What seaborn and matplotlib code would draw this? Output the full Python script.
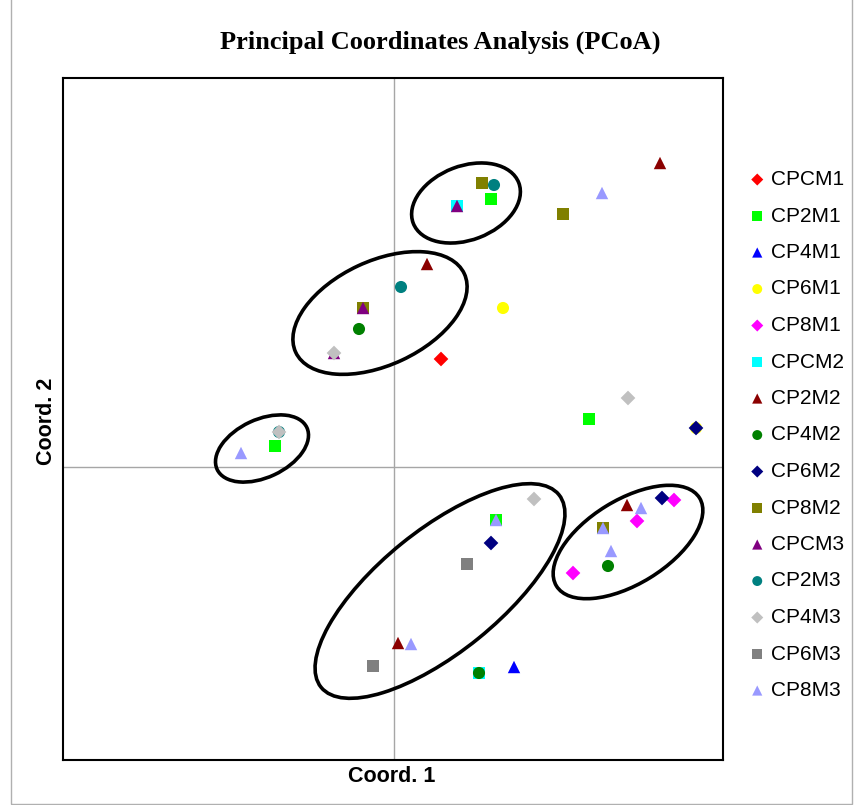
import matplotlib
matplotlib.use("Agg")
import matplotlib.pyplot as plt
from matplotlib.patches import Ellipse, Rectangle
import seaborn as sns
import pandas as pd

# ---- data ----
series = ["CPCM1", "CP2M1", "CP4M1", "CP6M1", "CP8M1",
          "CPCM2", "CP2M2", "CP4M2", "CP6M2", "CP8M2",
          "CPCM3", "CP2M3", "CP4M3", "CP6M3", "CP8M3"]

CPCM1_x = [0.047];                       CPCM1_y = [0.108]
CP2M1_x = [0.097, -0.119, 0.195, 0.102]; CP2M1_y = [0.268, 0.021, 0.048, -0.053]
CP4M1_x = [0.120];                       CP4M1_y = [-0.200]
CP6M1_x = [0.109, 0.302];                CP6M1_y = [0.159, 0.039]
CP8M1_x = [0.280, 0.243, 0.179];         CP8M1_y = [-0.033, -0.054, -0.106]
CPCM2_x = [0.063, 0.085];                CPCM2_y = [0.261, -0.206]
CP2M2_x = [0.266, 0.033, 0.233, 0.004];  CP2M2_y = [0.304, 0.203, -0.038, -0.176]
CP4M2_x = [-0.035, 0.085, 0.214];        CP4M2_y = [0.138, -0.206, -0.099]
CP6M2_x = [0.302, 0.268, 0.097];         CP6M2_y = [0.039, -0.031, -0.076]
CP8M2_x = [0.088, 0.169, -0.031, 0.209]; CP8M2_y = [0.284, 0.253, 0.159, -0.061]
CPCM3_x = [0.063, -0.031, -0.060];       CPCM3_y = [0.261, 0.159, 0.114]
CP2M3_x = [0.100, 0.007, -0.115];        CP2M3_y = [0.282, 0.180, 0.035]
CP4M3_x = [0.234, 0.140, -0.060, -0.115]; CP4M3_y = [0.069, -0.032, 0.114, 0.035]
CP6M3_x = [0.073, -0.021];               CP6M3_y = [-0.097, -0.199]
CP8M3_x = [0.208, -0.153, 0.102, 0.017, 0.247, 0.209, 0.217]
CP8M3_y = [0.274, 0.014, -0.053, -0.177, -0.041, -0.061, -0.084]

xs = [CPCM1_x, CP2M1_x, CP4M1_x, CP6M1_x, CP8M1_x, CPCM2_x, CP2M2_x, CP4M2_x,
      CP6M2_x, CP8M2_x, CPCM3_x, CP2M3_x, CP4M3_x, CP6M3_x, CP8M3_x]
ys = [CPCM1_y, CP2M1_y, CP4M1_y, CP6M1_y, CP8M1_y, CPCM2_y, CP2M2_y, CP4M2_y,
      CP6M2_y, CP8M2_y, CPCM3_y, CP2M3_y, CP4M3_y, CP6M3_y, CP8M3_y]

colors = ["#FF0000", "#00FF00", "#0000FF", "#FFFF00", "#FF00FF",
          "#00FFFF", "#8B0000", "#008000", "#000080", "#808000",
          "#800080", "#008080", "#C0C0C0", "#808080", "#9999FF"]
markers = ["D", "s", "^", "o", "D", "s", "^", "o", "D", "s", "^", "o", "D", "s", "^"]

# group ellipses: (center x, center y, width, height, angle)
ell_cx = [0.072, -0.014, -0.132, 0.046, 0.234]
ell_cy = [0.264, 0.154, 0.0185, -0.124, -0.075]
ell_w = [0.113, 0.186, 0.099, 0.306, 0.168]
ell_h = [0.074, 0.104, 0.058, 0.122, 0.084]
ell_a = [21, 25, 25, 39, 31.6]

# ---- styling ----
sns.set_style("white")
plt.rcParams["font.family"] = ["Liberation Sans", "DejaVu Sans"]
plt.rcParams["text.color"] = "black"

W, H = 855, 805
fig = plt.figure(figsize=(W / 100, H / 100), dpi=100)
L, R, T, B = 63, 723, 78, 760
ax = fig.add_axes([L / W, 1 - B / H, (R - L) / W, (B - T) / H])

msize = {"D": 56, "s": 74, "^": 80, "o": 76}
for name, x, y, c, m in zip(series, xs, ys, colors, markers):
    df = pd.DataFrame({"x": x, "y": y})
    sns.scatterplot(data=df, x="x", y="y", color=c, marker=m, s=msize[m],
                    linewidth=0, edgecolor="none", label=name, ax=ax, zorder=3)

for cx, cy, w, h, a in zip(ell_cx, ell_cy, ell_w, ell_h, ell_a):
    ax.add_patch(Ellipse((cx, cy), w, h, angle=a, fill=False,
                         edgecolor="black", linewidth=2.6, zorder=4))

ax.axvline(0, color="#A6A6A6", linewidth=1.0, zorder=1)
ax.axhline(0, color="#A6A6A6", linewidth=1.0, zorder=1)

ax.set_xlim(-0.331, 0.329)
ax.set_ylim(-0.293, 0.389)
ax.set_xticks([])
ax.set_yticks([])
ax.set_xlabel("")
ax.set_ylabel("")
for sp in ax.spines.values():
    sp.set_visible(True)
    sp.set_color("black")
    sp.set_linewidth(1.5)

leg = ax.legend(loc="upper left", bbox_to_anchor=(751 / W, 1 - 170 / H),
                bbox_transform=fig.transFigure, frameon=False, fontsize=15,
                markerscale=0.82, handlelength=0.6, handletextpad=0.35,
                labelspacing=0.84, borderpad=0, borderaxespad=0)
for t in leg.get_texts():
    t.set_color("black")

fig.text(440 / W, 1 - 42 / H, "Principal Coordinates Analysis (PCoA)",
         ha="center", va="center", fontsize=19, fontweight="bold",
         family=["Liberation Serif", "DejaVu Serif"], color="black")
fig.text(392 / W, 1 - 776 / H, "Coord. 1", ha="center", va="center",
         fontsize=15.5, fontweight="bold", color="black")
fig.text(46 / W, 1 - 421 / H, "Coord. 2", ha="center", va="center",
         fontsize=15.5, fontweight="bold", rotation=90, color="black")

fig.patches.append(Rectangle((10.5 / W, 1.5 / H), (852 - 10.5) / W, (H + 10) / H,
                             transform=fig.transFigure, fill=False,
                             edgecolor="#B0B0B0", linewidth=1.0))

fig.savefig("out.png", dpi=100)
